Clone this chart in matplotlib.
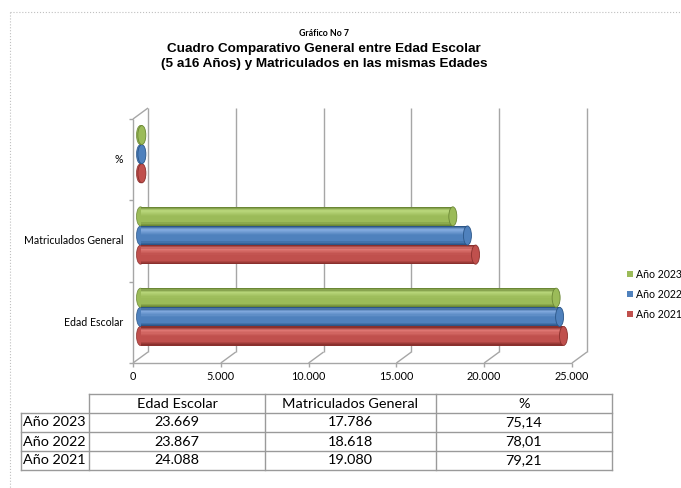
import matplotlib
matplotlib.use("Agg")
import matplotlib.pyplot as plt
from matplotlib.patches import Ellipse, Rectangle
from matplotlib.colors import LinearSegmentedColormap
import numpy as np

# data
categories = ["Edad Escolar", "Matriculados General", "%"]
years = ["Año 2021", "Año 2022", "Año 2023"]
values_2021 = [24088, 19080, 79.21]
values_2022 = [23867, 18618, 78.01]
values_2023 = [23669, 17786, 75.14]
x_ticks = [0, 5000, 10000, 15000, 20000, 25000]
x_tick_labels = ["0", "5.000", "10.000", "15.000", "20.000", "25.000"]

series = [values_2021, values_2022, values_2023]
# (dark, light, base) per year
shades = [("#8a302d", "#e07874", "#c0504d"),
          ("#2b5688", "#82aade", "#4f81bd"),
          ("#6b8735", "#b8d67a", "#9bbb59")]

# layout in pixels
W, H = 681, 488
FL, FR, FT, FB = 133, 572, 119, 363
DX, DY = 15, 11
GRID = "#a6a6a6"

fig = plt.figure(figsize=(W / 100, H / 100), dpi=100)
fig.patch.set_facecolor("white")

bg = fig.add_axes([0, 0, 1, 1])
bg.set_xlim(0, W)
bg.set_ylim(H, 0)
bg.axis("off")

ax = fig.add_axes([FL / W, 1 - FB / H, (FR - FL) / W, (FB - FT) / H])
ax.set_xlim(0, 25000)
ax.set_ylim(0, 3)
ax.axis("off")

sx = 25000 / (FR - FL)
sy = 3 / (FB - FT)
dx, dy = DX * sx, DY * sy

def line(xs, ys, **kw):
    ax.plot(xs, ys, color=GRID, lw=1, clip_on=False, solid_capstyle="butt", **kw)

# back wall gridlines
for t in x_ticks:
    line([t + dx, t + dx], [dy, 3 + dy])
# left wall
line([0, 0], [0, 3])
line([0, dx], [3, 3 + dy])
for k in range(4):
    line([-4 * sx, 0], [k, k])
# floor
line([0, 25000], [0, 0])
for t, lab in zip(x_ticks, x_tick_labels):
    line([t, t + dx], [0, dy])
    line([t, t], [0, -4 * sy])
    ax.text(t, -14 * sy, lab, ha="center", va="center", fontsize=7.8,
            family="Lato", clip_on=False)

for i, cat in enumerate(categories):
    ax.text(-10 * sx, i + 0.5, cat, ha="right", va="center", fontsize=7.6,
            family="Lato", clip_on=False)

# cylinder bars
bh = 0.235
n = 16
mx, my = dx / 2, dy / 2
for j, vals in enumerate(series):
    dark, light, base = shades[j]
    cmap = LinearSegmentedColormap.from_list(
        "c%d" % j, [(0, dark), (0.18, light), (0.5, base), (0.8, base), (1, dark)])
    for i, v in enumerate(vals):
        yc = i + 0.5 + (j - 1) * bh + my
        ax.add_patch(Ellipse((mx, yc), 8 * sx, bh, facecolor=base,
                             edgecolor=dark, lw=0.5, clip_on=False, zorder=2))
        for s in range(n):
            ys = yc + bh / 2 - (s + 0.5) * bh / n
            ax.barh(ys, v, left=mx, height=bh / n * 1.05, color=cmap(s / (n - 1)),
                    linewidth=0, zorder=3, clip_on=False)
        ax.add_patch(Ellipse((mx + v, yc), 8 * sx, bh, facecolor=base,
                             edgecolor=dark, lw=0.6, clip_on=False, zorder=4))

# titles
bg.text(324, 33, "Gráfico No 7", ha="center", va="center", fontsize=6.3,
        family="Lato", fontweight="bold")
bg.text(324, 49, "Cuadro Comparativo General entre Edad Escolar", ha="center",
        va="center", fontsize=9.7, family="Liberation Sans", fontweight="bold")
bg.text(324, 64, "(5 a16 Años) y Matriculados en las mismas Edades", ha="center",
        va="center", fontsize=9.7, family="Liberation Sans", fontweight="bold")

# legend
for k, j in enumerate([2, 1, 0]):
    y = 274 + 20 * k
    bg.add_patch(Rectangle((627, y - 3), 6, 6, facecolor=shades[j][2], edgecolor="none"))
    bg.text(636, y, years[j], ha="left", va="center", fontsize=7.6, family="Lato")

# dotted frame
bg.plot([10, W], [12, 12], color="#c0c0c0", lw=0.8, ls=":")
bg.plot([10, 10], [12, H], color="#c0c0c0", lw=0.8, ls=":")

# data table
def fmt(v):
    if v < 1000:
        return ("%.2f" % v).replace(".", ",")
    return "{:,}".format(int(v)).replace(",", ".")

cols_x = [21, 89, 265, 436, 612]
rows_y = [394, 413, 432, 451, 470]
TC = "#9a9a9a"
bg.plot([89, 612], [394, 394], color=TC, lw=1)
for y in rows_y[1:]:
    bg.plot([21, 612], [y, y], color=TC, lw=1)
bg.plot([21, 21], [413, 470], color=TC, lw=1)
for x in cols_x[1:]:
    bg.plot([x, x], [394, 470], color=TC, lw=1)
for c, cat in enumerate(categories):
    xc = (cols_x[c + 1] + cols_x[c + 2]) / 2
    bg.text(xc, 403.5, cat, ha="center", va="center", fontsize=10.4, family="Lato")
for r, j in enumerate([2, 1, 0]):
    yc = (rows_y[r + 1] + rows_y[r + 2]) / 2
    bg.text(23, yc, years[j], ha="left", va="center", fontsize=10.4, family="Lato")
    for c in range(3):
        xc = (cols_x[c + 1] + cols_x[c + 2]) / 2
        bg.text(xc, yc, fmt(series[j][c]), ha="center", va="center",
                fontsize=10.4, family="Lato")

fig.savefig("out.png", dpi=100, facecolor="white")
